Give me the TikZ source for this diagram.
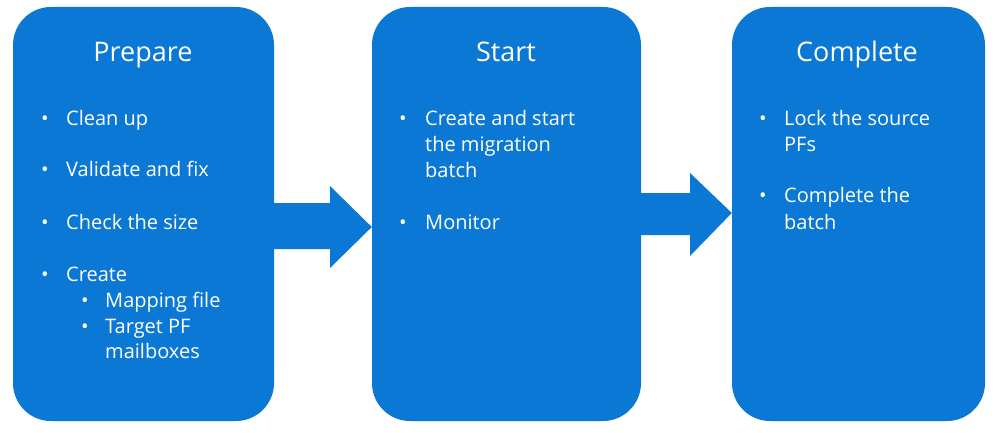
\documentclass[tikz,border=0pt]{standalone}
\usepackage{fontspec}
\setmainfont{Open Sans}
\usetikzlibrary{calc}
\definecolor{msblue}{RGB}{10,120,212}
\tikzset{
  stage/.style={fill=msblue, draw=none, rectangle, rounded corners=38pt, inner sep=0pt, minimum height=414pt},
  title/.style={text=white, font=\fontsize{27}{32}\selectfont, anchor=base, inner sep=0pt},
  item/.style={text=white, font=\fontsize{20}{24}\selectfont, anchor=base west, inner sep=0pt},
  dot/.style={text=white, font=\fontsize{20}{24}\selectfont, anchor=base, inner sep=0pt},
  flow/.style={fill=msblue, draw=none}
}
\begin{document}
\begin{tikzpicture}[x=1pt,y=-1pt]
\useasboundingbox[fill=white] (0,0) rectangle (999,433);
% stages
\node[stage, minimum width=261pt] (prep) at (143.5,214) {};
\node[stage, minimum width=269pt] (start) at (506.5,214) {};
\node[stage, minimum width=253pt] (comp) at (858.5,214) {};
% arrows
\fill[flow] ($(prep.east)+(-1,-11)$) -- (330,203) -- (330,186) -- ($(start.west)+(0,13)$)
  -- (330,268) -- (330,249) -- ($(prep.east)+(-1,35)$) -- cycle;
\fill[flow] ($(start.east)+(-1,-21)$) -- (690,193) -- (690,173) -- ($(comp.west)+(0,-1)$)
  -- (690,256) -- (690,235) -- ($(start.east)+(-1,21)$) -- cycle;
% titles
\node[title] (t1) at (143,62) {Prepare};
\node[title] (t2) at (506,62) {Start};
\node[title] (t3) at (857,62) {Complete};
% Prepare items
\node[dot] (b11) at (45,126) {•};
\node[item] (i11) at (66,126) {Clean up};
\node[dot] (b12) at (45,177) {•};
\node[item] (i12) at (66,177) {Validate and fix};
\node[dot] (b13) at (45,229) {•};
\node[item] (i13) at (66,229) {Check the size};
\node[dot] (b14) at (45,281) {•};
\node[item] (i14) at (66,281) {Create};
\node[dot] (b15) at (85,307) {•};
\node[item] (i15) at (105,307) {Mapping file};
\node[dot] (b16) at (85,333) {•};
\node[item] (i16) at (105,333) {Target PF};
\node[item] (i17) at (105,358) {mailboxes};
% Start items
\node[dot] (b21) at (403,126) {•};
\node[item] (i21) at (425,126) {Create and start};
\node[item] (i22) at (425,152) {the migration};
\node[item] (i23) at (425,178) {batch};
\node[dot] (b24) at (403,229) {•};
\node[item] (i24) at (425,229) {Monitor};
% Complete items
\node[dot] (b31) at (763,126) {•};
\node[item] (i31) at (784,126) {Lock the source};
\node[item] (i32) at (784,152) {PFs};
\node[dot] (b33) at (763,203) {•};
\node[item] (i33) at (784,203) {Complete the};
\node[item] (i34) at (784,229) {batch};
\end{tikzpicture}
\end{document}
